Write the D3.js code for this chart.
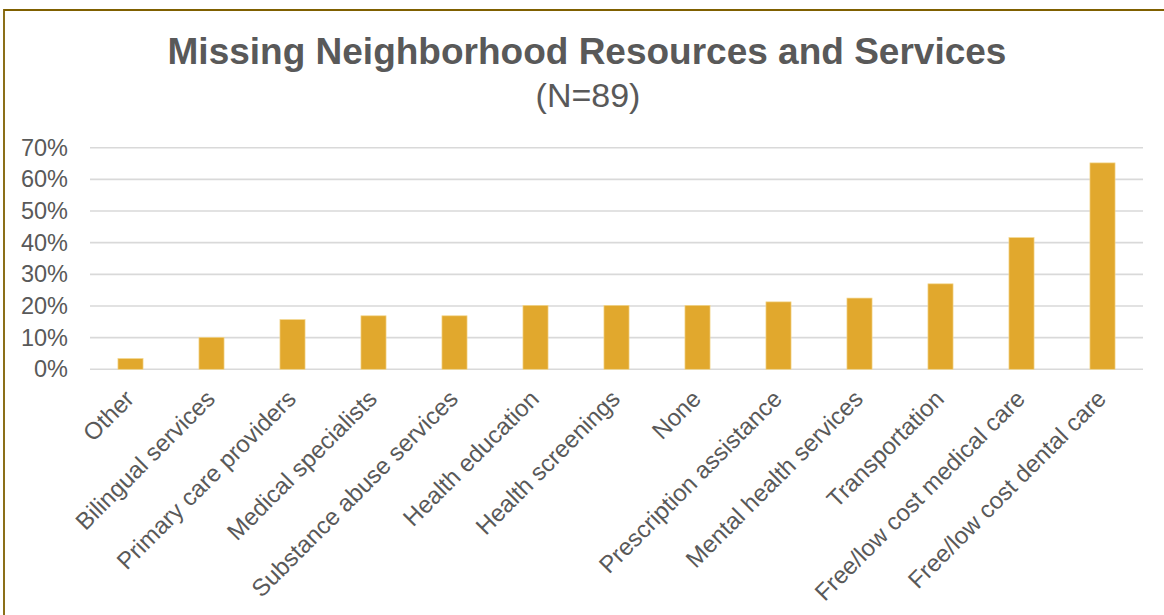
<!DOCTYPE html>
<html>
<head>
<meta charset="utf-8">
<script src="https://cdn.jsdelivr.net/npm/d3@7"></script>
<style>
  body { margin: 0; background: #fff; }
  svg { display: block; font-family: "Liberation Sans", Arial, sans-serif; }
</style>
</head>
<body>
<svg id="chart"></svg>
<script>
const categories = [
  "Other", "Bilingual services", "Primary care providers", "Medical specialists",
  "Substance abuse services", "Health education", "Health screenings", "None",
  "Prescription assistance", "Mental health services", "Transportation",
  "Free/low cost medical care", "Free/low cost dental care"
];
const shares = [0.034, 0.101, 0.157, 0.169, 0.169, 0.202, 0.202, 0.202, 0.213, 0.225, 0.27, 0.416, 0.652];
const yTicks = [0, 0.1, 0.2, 0.3, 0.4, 0.5, 0.6, 0.7];

const width = 1164;
const height = 615;
const margin = { top: 147.7, right: 21, bottom: 245.7, left: 90 };

const svg = d3.select("#chart").attr("width", width).attr("height", height);

// frame (only top and left edges are inside the picture)
svg.append("path")
  .attr("d", `M4,${height + 5} L4,10 L${width + 5},10`)
  .attr("fill", "none")
  .attr("stroke", "#7f6000")
  .attr("stroke-width", 1.8);

const x = d3.scaleBand()
  .domain(categories)
  .range([margin.left, width - margin.right])
  .paddingInner(0.69)
  .paddingOuter(0.345);

const y = d3.scaleLinear()
  .domain([0, 0.7])
  .range([height - margin.bottom, margin.top]);

// gridlines
svg.append("g")
  .selectAll("line")
  .data(yTicks)
  .join("line")
  .attr("x1", margin.left)
  .attr("x2", width - margin.right)
  .attr("y1", (d) => y(d))
  .attr("y2", (d) => y(d))
  .attr("stroke", "#d9d9d9")
  .attr("stroke-width", 1.6);

// y axis labels
const yAxis = d3.axisLeft(y).tickValues(yTicks).tickFormat(d3.format(".0%")).tickSize(0).tickPadding(22);
const gy = svg.append("g").attr("transform", `translate(${margin.left},0)`).call(yAxis);
gy.select(".domain").remove();
gy.selectAll("text")
  .attr("fill", "#595959")
  .style("font-size", "23.5px")
  .style("font-family", "Liberation Sans, Arial, sans-serif");

// bars
svg.append("g")
  .selectAll("rect")
  .data(categories.map((c, i) => ({ c, v: shares[i] })))
  .join("rect")
  .attr("x", (d) => x(d.c))
  .attr("width", x.bandwidth())
  .attr("y", (d) => y(d.v))
  .attr("height", (d) => y(0) - y(d.v))
  .attr("fill", "#e1a82d")
  .attr("stroke", "#f3d78f")
  .attr("stroke-width", 0.7);

// x labels, rotated
svg.append("g")
  .selectAll("text")
  .data(categories)
  .join("text")
  .attr("transform", (d) => `translate(${x(d) + x.bandwidth() / 2 + 5},${y(0) + 31}) rotate(-45)`)
  .attr("text-anchor", "end")
  .attr("fill", "#595959")
  .style("font-size", "24px")
  .text((d) => d);

// title
svg.append("text")
  .attr("x", 587)
  .attr("y", 64)
  .attr("text-anchor", "middle")
  .attr("fill", "#595959")
  .style("font-size", "37px")
  .style("font-weight", "bold")
  .text("Missing Neighborhood Resources and Services");

svg.append("text")
  .attr("x", 588)
  .attr("y", 106.5)
  .attr("text-anchor", "middle")
  .attr("fill", "#595959")
  .style("font-size", "34px")
  .text("(N=89)");
</script>
</body>
</html>
